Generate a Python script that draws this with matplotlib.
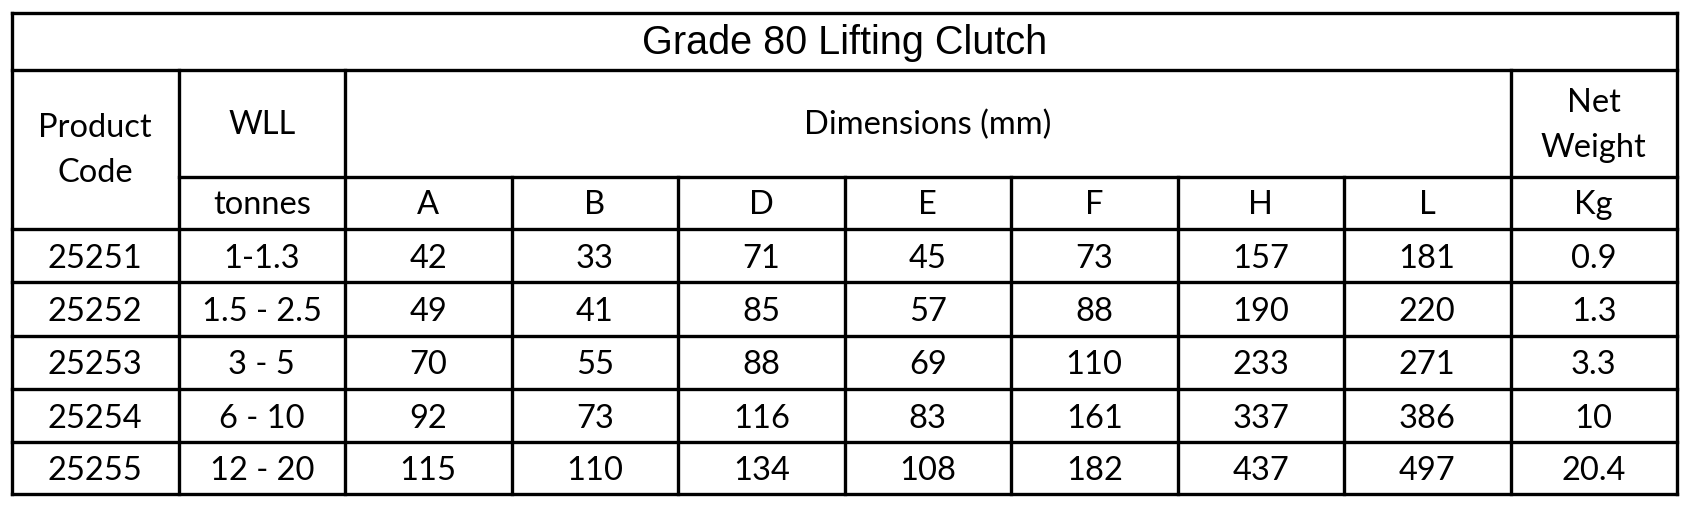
import matplotlib
matplotlib.use("Agg")
import matplotlib.pyplot as plt

title = "Grade 80 Lifting Clutch"
product_codes = ["25251", "25252", "25253", "25254", "25255"]
wll = ["1-1.3", "1.5 - 2.5", "3 - 5", "6 - 10", "12 - 20"]
dim_labels = ["A", "B", "D", "E", "F", "H", "L"]
dim_a = [42, 49, 70, 92, 115]
dim_b = [33, 41, 55, 73, 110]
dim_d = [71, 85, 88, 116, 134]
dim_e = [45, 57, 69, 83, 108]
dim_f = [73, 88, 110, 161, 182]
dim_h = [157, 190, 233, 337, 437]
dim_l = [181, 220, 271, 386, 497]
net_weight = ["0.9", "1.3", "3.3", "10", "20.4"]

W, H = 1693, 508
fig = plt.figure(figsize=(W / 100, H / 100), dpi=100)
ax = fig.add_axes([0, 0, 1, 1])
ax.set_xlim(0, W)
ax.set_ylim(H, 0)
ax.axis("off")

# grid geometry (pixels)
xs = [12 + i * (1677 - 12) / 10 for i in range(11)]
y_top, y_title, y_sub, y_data = 13, 70, 177, 229
row_ys = [229, 282, 336, 389, 442, 494]

lw = 2.4
kw = dict(color="black", lw=lw, solid_capstyle="projecting")

# outer box and title line
ax.plot([xs[0], xs[-1]], [y_top, y_top], **kw)
ax.plot([xs[0], xs[-1]], [y_title, y_title], **kw)
ax.plot([xs[0], xs[0]], [y_top, row_ys[-1]], **kw)
ax.plot([xs[-1], xs[-1]], [y_top, row_ys[-1]], **kw)
# sub-header line (not under Product Code)
ax.plot([xs[1], xs[-1]], [y_sub, y_sub], **kw)
# data row lines
for y in row_ys:
    ax.plot([xs[0], xs[-1]], [y, y], **kw)
# verticals
for i in [1, 2, 9]:
    ax.plot([xs[i], xs[i]], [y_title, row_ys[-1]], **kw)
for i in range(3, 9):
    ax.plot([xs[i], xs[i]], [y_sub, row_ys[-1]], **kw)

cell_font = dict(family=["Lato", "DejaVu Sans"], fontsize=23.5, color="black",
                 ha="center", va="center")

def cx(i):
    return (xs[i] + xs[i + 1]) / 2

ax.text((xs[0] + xs[-1]) / 2, (y_top + y_title) / 2 + 1, title,
        family=["Liberation Sans", "DejaVu Sans"], fontsize=28.5,
        ha="center", va="center")

ax.text(cx(0), (y_title + y_data) / 2 + 1, "Product\nCode", linespacing=1.65, **cell_font)
ax.text(cx(1), (y_title + y_sub) / 2 + 1, "WLL", **cell_font)
ax.text((xs[2] + xs[9]) / 2, (y_title + y_sub) / 2 + 1, "Dimensions (mm)", **cell_font)
ax.text(cx(9), (y_title + y_sub) / 2 + 2, "Net\nWeight", linespacing=1.65, **cell_font)
ax.text(cx(1), (y_sub + y_data) / 2 + 2, "tonnes", **cell_font)
for j, lab in enumerate(dim_labels):
    ax.text(cx(2 + j), (y_sub + y_data) / 2 + 2, lab, **cell_font)
ax.text(cx(9), (y_sub + y_data) / 2 + 2, "Kg", **cell_font)

columns = [product_codes, wll, dim_a, dim_b, dim_d, dim_e, dim_f, dim_h, dim_l, net_weight]
for c, col in enumerate(columns):
    for r, val in enumerate(col):
        yc = (row_ys[r] + row_ys[r + 1]) / 2 + 3
        ax.text(cx(c), yc, str(val), **cell_font)

fig.savefig("out.png", dpi=100, facecolor="white")
